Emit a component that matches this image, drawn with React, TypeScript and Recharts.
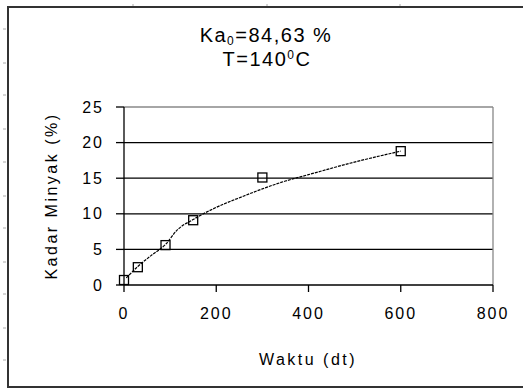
import React from 'react';
import {
  ComposedChart,
  XAxis,
  YAxis,
  Line,
  Scatter,
  ReferenceLine,
} from 'recharts';

// measured oil content (%) vs time (s)
const waktu = [0, 30, 90, 150, 300, 600];
const kadarMinyak = [0.7, 2.5, 5.6, 9.1, 15.1, 18.8];

// fitted curve drawn through the measurements
const trendWaktu = [5, 30, 60, 90, 115, 150, 200, 260, 300, 350, 400, 490, 600];
const trendKadar = [1.0, 2.6, 4.2, 5.7, 7.7, 9.2, 10.9, 12.5, 13.5, 14.6, 15.5, 17.1, 18.8];

const xTicks = [0, 200, 400, 600, 800];
const yTicks = [0, 5, 10, 15, 20, 25];
const gridLevels = [5, 10, 15, 20];

const measured = waktu.map((x, i) => ({ x, y: kadarMinyak[i] }));
const trend = trendWaktu.map((x, i) => ({ x, y: trendKadar[i] }));

const FONT = '"Liberation Sans", Arial, sans-serif';

function SquareMarker(props: any) {
  const { cx, cy } = props;
  return <rect x={cx - 4.5} y={cy - 4.5} width={9} height={9} fill="none" stroke="#000" strokeWidth={1.3} />;
}

// faint ruler marks around the border
const rulerLeft = [29, 63, 95, 129, 162, 196, 228, 262, 294, 328, 360];
const rulerTop = [133, 267, 400];

function Frame() {
  return (
    <svg
      width={523}
      height={391}
      style={{ position: 'absolute', left: 0, top: 0, pointerEvents: 'none' }}
    >
      <rect x={8} y={7} width={600} height={380} fill="none" stroke="#333" strokeWidth={2} />
      {rulerLeft.map((y) => (
        <line key={'l' + y} x1={3} x2={6} y1={y} y2={y} stroke="#aaa" strokeWidth={1} />
      ))}
      {rulerTop.map((x) => (
        <line key={'t' + x} x1={x} x2={x} y1={4} y2={6} stroke="#aaa" strokeWidth={1} />
      ))}
      <text x={266} y={42} textAnchor="middle" fontFamily={FONT} fontSize={20} letterSpacing={1.5} fill="#000">
        Ka<tspan fontSize={12} dy={3}>0</tspan>
        <tspan dy={-3}>=84,63 %</tspan>
      </text>
      <text x={267} y={66} textAnchor="middle" fontFamily={FONT} fontSize={20} letterSpacing={1.5} fill="#000">
        T=140<tspan fontSize={12} dy={-7}>0</tspan>
        <tspan dy={7}>C</tspan>
      </text>
    </svg>
  );
}

export default function App() {
  const tickStyle = { fontFamily: FONT, fontSize: 16, fill: '#000', letterSpacing: 2 };
  return (
    <div style={{ position: 'absolute', left: 0, top: 0, width: 523, height: 391, background: '#fff' }}>
      <ComposedChart
        width={523}
        height={391}
        margin={{ top: 107, right: 30, left: 64, bottom: 66 }}
      >
        <XAxis
          type="number"
          dataKey="x"
          domain={[0, 800]}
          ticks={xTicks}
          tick={tickStyle}
          tickSize={7}
          tickMargin={16}
          height={40}
          stroke="#000"
          axisLine={{ stroke: '#000', strokeWidth: 1.3 }}
          tickLine={{ stroke: '#000', strokeWidth: 1.3 }}
          label={{
            content: () => (
              <text x={308} y={365} textAnchor="middle" fontFamily={FONT} fontSize={16} letterSpacing={2.5} fill="#000">
                Waktu (dt)
              </text>
            ),
          }}
        />
        <YAxis
          type="number"
          dataKey="y"
          domain={[0, 25]}
          ticks={yTicks}
          tick={tickStyle}
          tickSize={8}
          tickMargin={12}
          width={60}
          stroke="#000"
          axisLine={{ stroke: '#000', strokeWidth: 1.3 }}
          tickLine={{ stroke: '#000', strokeWidth: 1.3 }}
          label={{
            content: () => (
              <text
                x={57}
                y={196}
                transform="rotate(-90 57 196)"
                textAnchor="middle"
                fontFamily={FONT}
                fontSize={16}
                letterSpacing={2.5}
                fill="#000"
              >
                Kadar Minyak (%)
              </text>
            ),
          }}
        />
        {gridLevels.map((v) => (
          <ReferenceLine key={v} y={v} stroke="#000" strokeWidth={1.3} />
        ))}
        <ReferenceLine y={25} stroke="#888" strokeWidth={1.3} />
        <ReferenceLine x={800} stroke="#888" strokeWidth={1.3} />
        <Line
          data={trend}
          dataKey="y"
          type="monotone"
          stroke="#000"
          strokeWidth={1.2}
          strokeDasharray="3 1"
          dot={false}
          activeDot={false}
          isAnimationActive={false}
        />
        <Scatter data={measured} dataKey="y" shape={<SquareMarker />} isAnimationActive={false} />
      </ComposedChart>
      <Frame />
    </div>
  );
}
